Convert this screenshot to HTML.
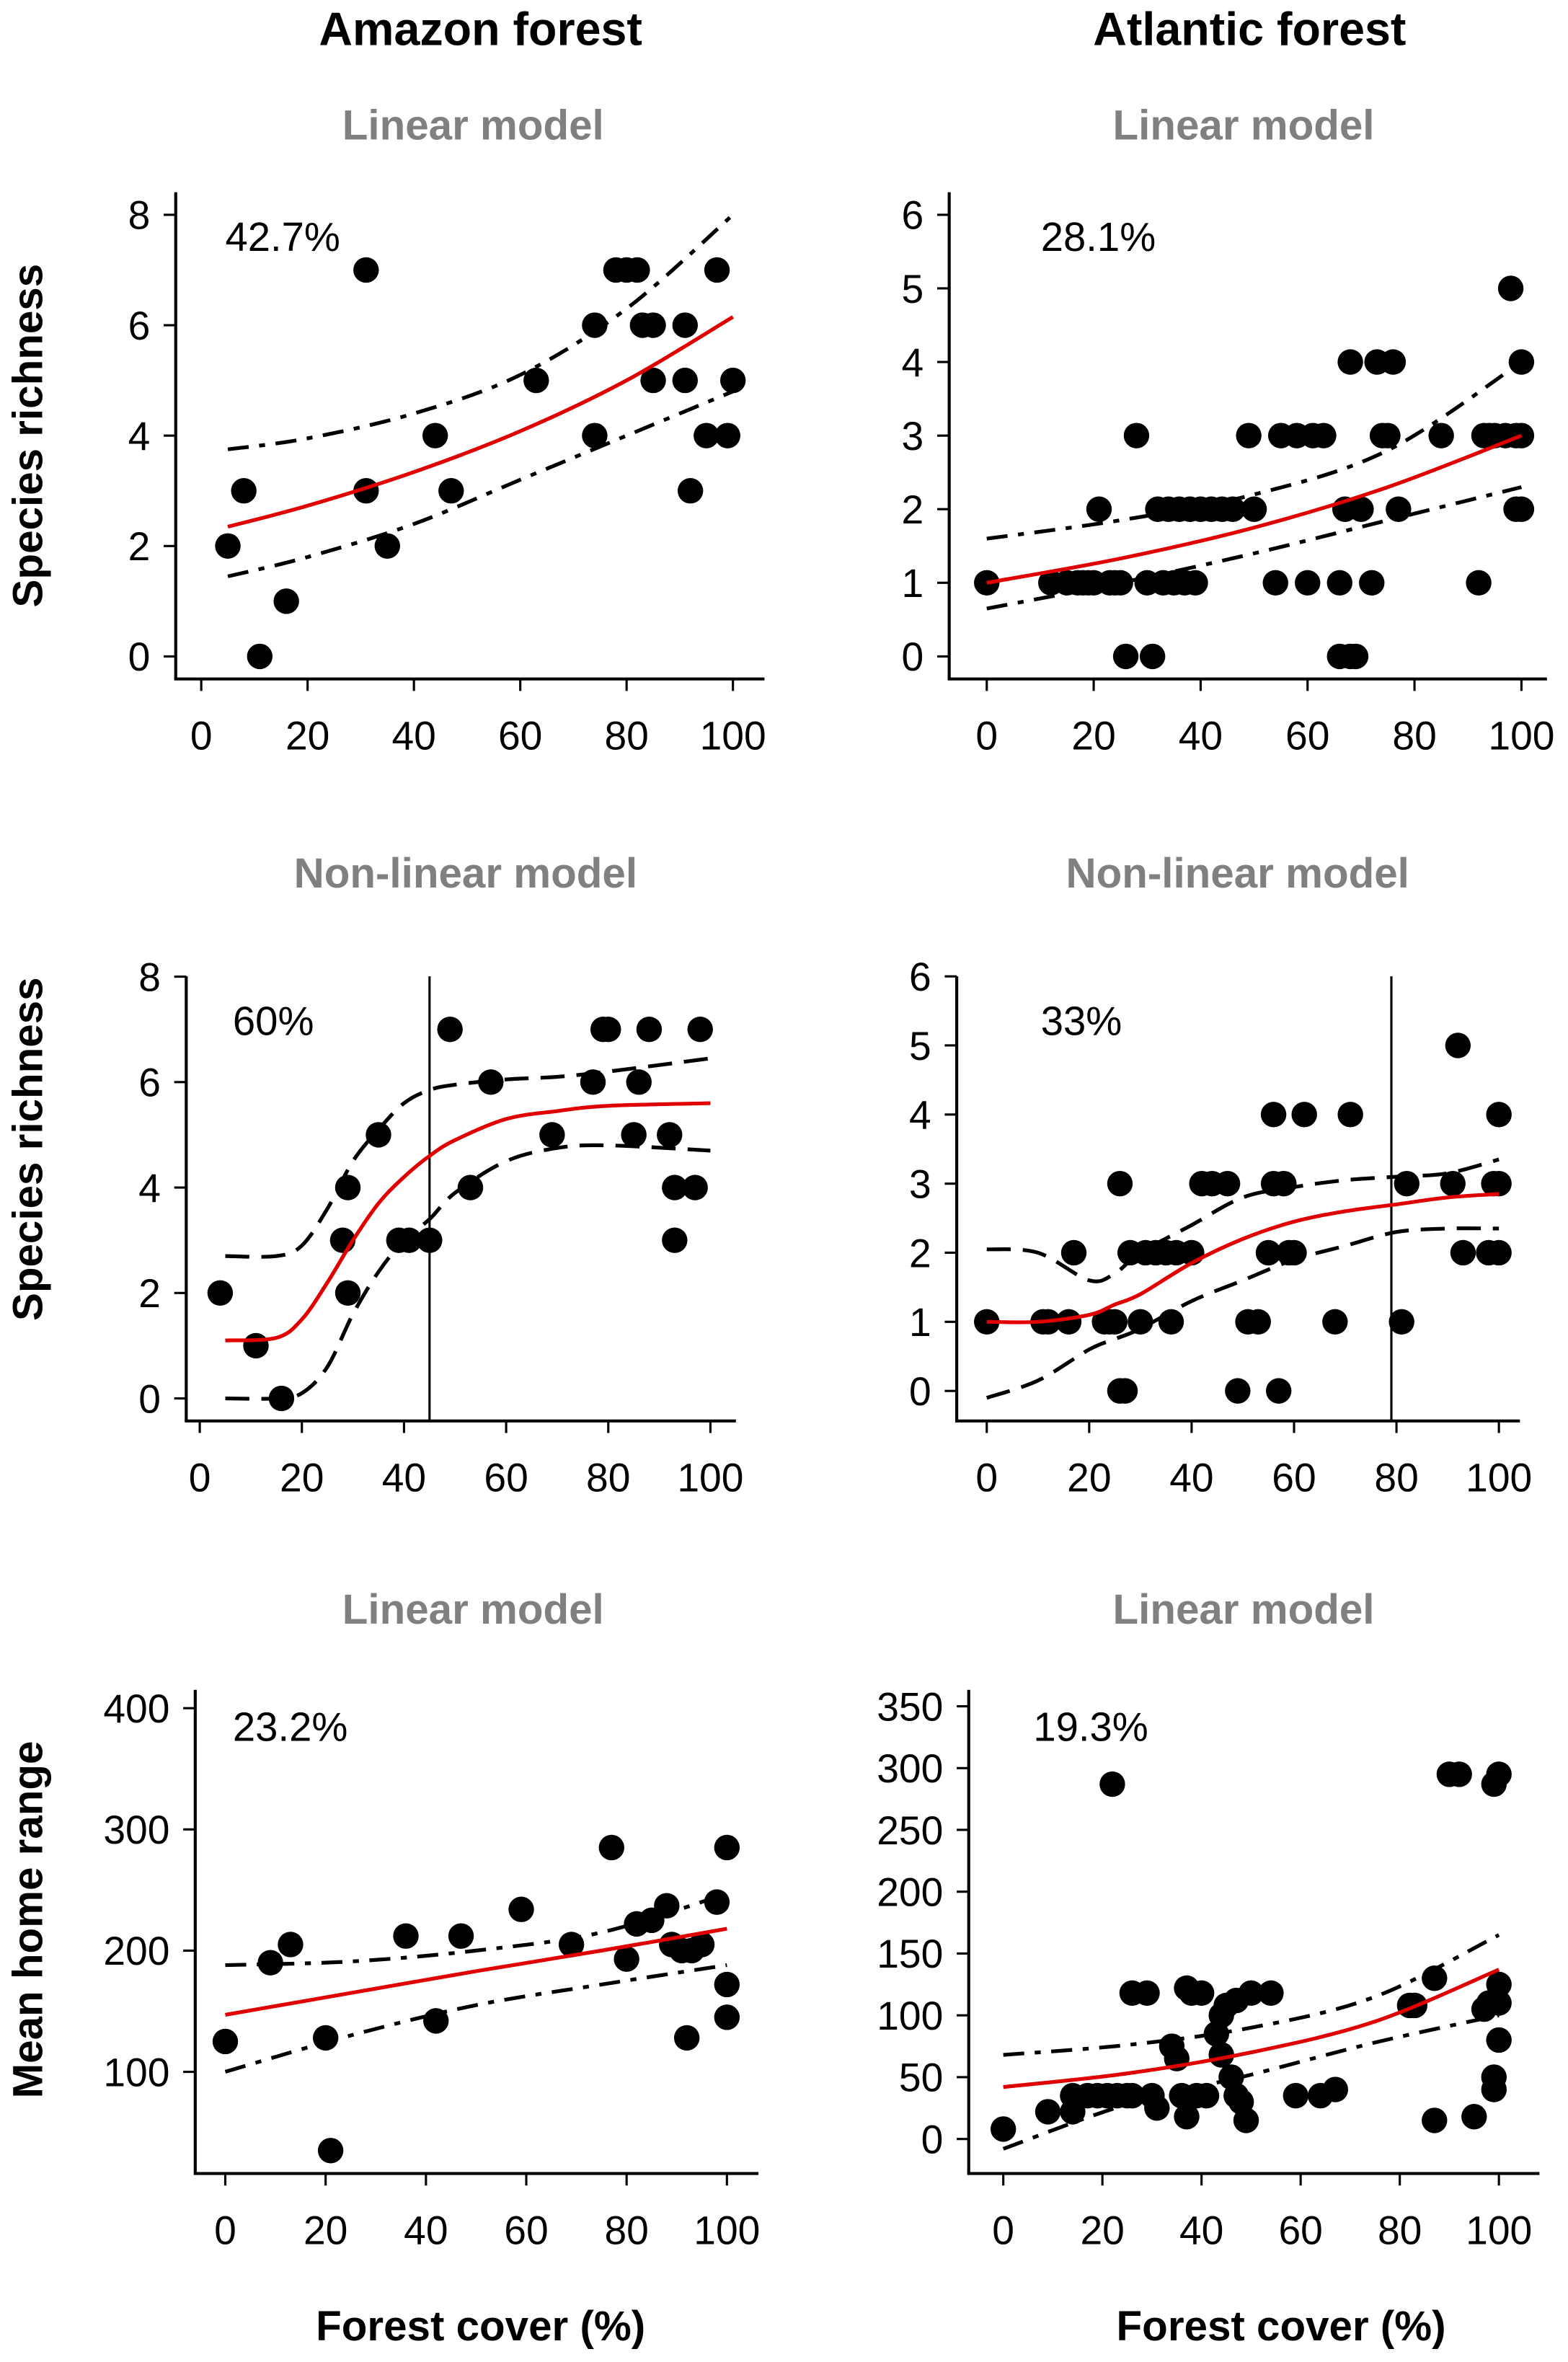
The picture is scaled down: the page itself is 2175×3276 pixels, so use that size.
<!DOCTYPE html>
<html><head><meta charset="utf-8"><style>
html,body{margin:0;padding:0;background:#fff;}
svg{display:block;font-family:"Liberation Sans",Arial,sans-serif;}
</style></head><body>
<svg id="fig" width="2175" height="3276" viewBox="0 0 1044 1572.5" preserveAspectRatio="none" xmlns="http://www.w3.org/2000/svg">
<text x="320" y="30" font-size="31" font-weight="bold" text-anchor="middle">Amazon forest</text>
<text x="832" y="30" font-size="31" font-weight="bold" text-anchor="middle">Atlantic forest</text>
<g fill="#808080" font-size="28" font-weight="bold" text-anchor="middle">
<text x="315" y="93">Linear model</text>
<text x="828" y="93">Linear model</text>
<text x="310" y="591">Non-linear model</text>
<text x="824" y="591">Non-linear model</text>
<text x="315" y="1081">Linear model</text>
<text x="828" y="1081">Linear model</text>
</g>
<g font-size="28" font-weight="bold" text-anchor="middle">
<text transform="translate(28,290) rotate(-90)">Species richness</text>
<text transform="translate(28,765) rotate(-90)">Species richness</text>
<text transform="translate(28,1278) rotate(-90)">Mean home range</text>
<text x="320" y="1558">Forest cover (%)</text>
<text x="853" y="1558">Forest cover (%)</text>
</g>
</svg>
<script>
// ---- data ----
const xTicks = [0,20,40,60,80,100];
const a1Ticks = [0,2,4,6,8];
const a1X = [5,8,11,16,31,31,35,44,47,63,74,74,78,80,82,83,85,85,91,91,92,95,97,99,100];
const a1Y = [2,3,0,1,7,3,2,4,3,5,6,4,7,7,7,6,6,5,6,5,3,4,7,4,5];
const a1CurveX = [5,20,40,60,80,100];
const a1Fit = [2.35,2.73,3.34,4.08,5.0,6.15];
const a1Upper = [3.75,3.95,4.4,5.1,6.3,8.0];
const a1Lower = [1.45,1.8,2.4,3.2,4.0,4.8];

const a2Ticks = [0,1,2,3,4,5,6];
const a2X = [0,12,15,17,18,19,20,21,23,24,25,26,28,30,31,32,33,34,35,36,37,38,39,40,42,44,46,49,50,54,55,58,60,61,63,66,66,67,68,68,69,70,72,73,74,75,76,77,85,92,93,94,95,97,98,99,99,100,100,100];
const a2Y = [1,1,1,1,1,1,1,2,1,1,1,0,3,1,0,2,1,2,1,2,1,2,1,2,2,2,2,3,2,1,3,3,1,3,3,1,0,2,0,4,0,2,1,4,3,3,4,2,3,1,3,3,3,3,5,2,3,2,4,3];
const a2CurveX = [0,25,50,75,100];
const a2Fit = [1.0,1.33,1.75,2.3,3.0];
const a2Upper = [1.6,1.85,2.2,2.8,4.0];
const a2Lower = [0.65,1.0,1.4,1.85,2.3];

const b1Ticks = [0,2,4,6,8];
const b1X = [4,11,16,28,29,29,35,39,41,45,49,53,57,69,77,79,80,85,86,88,92,93,93,97,98];
const b1Y = [2,1,0,3,4,2,5,3,3,3,7,4,6,5,6,7,7,5,6,7,5,4,3,4,7];
const b1CurveX = [5,15,20,25,30,35,40,45,50,60,70,80,100];
const b1Fit = [1.1,1.15,1.5,2.2,3.0,3.7,4.2,4.6,4.9,5.3,5.45,5.55,5.6];
const b1Upper = [2.7,2.7,2.9,3.6,4.5,5.1,5.6,5.85,5.95,6.05,6.1,6.2,6.45];
const b1Lower = [0,0,0.1,0.6,1.6,2.4,3.0,3.4,3.9,4.5,4.75,4.8,4.7];
const b1Threshold = 45;

const b2Ticks = [0,1,2,3,4,5,6];
const b2X = [0,11,12,16,17,23,24,25,26,26,27,28,30,31,33,35,36,37,40,42,44,47,49,51,53,55,56,56,57,58,59,60,62,68,71,81,82,91,92,93,98,99,100,100,100];
const b2Y = [1,1,1,1,2,1,1,1,3,0,0,2,1,2,2,2,1,2,2,3,3,3,0,1,1,2,4,3,0,3,2,2,4,1,4,1,3,3,5,2,2,3,2,4,3];
const b2CurveX = [0,10,20,25,30,40,50,60,70,80,90,100];
const b2Fit = [1.0,1.0,1.1,1.25,1.4,1.85,2.2,2.45,2.6,2.7,2.8,2.85];
const b2Upper = [2.05,2.0,1.6,1.7,2.0,2.4,2.8,2.95,3.05,3.1,3.15,3.35];
const b2Lower = [-0.1,0.15,0.6,0.75,0.9,1.3,1.6,1.9,2.1,2.3,2.35,2.35];
const b2Threshold = 79;

const c1Ticks = [100,200,300,400];
const c1X = [0,9,13,20,21,36,42,47,59,69,77,80,82,85,88,89,91,92,93,95,98,100,100,100];
const c1Y = [125,190,205,128,35,212,142,212,234,205,285,193,222,225,237,205,200,128,200,205,240,285,172,145];
const c1CurveX = [0,25,50,75,100];
const c1Fit = [147,165,183,200,218];
const c1Upper = [188,191,200,215,247];
const c1Lower = [100,130,155,172,188];

const c2Ticks = [0,50,100,150,200,250,300,350];
const c2X = [0,9,14,14,17,19,21,22,23,25,26,26,29,30,31,34,35,36,37,37,38,39,40,41,43,44,44,45,46,47,47,48,49,50,54,59,64,67,82,83,87,87,90,92,95,97,98,99,99,99,100,100,100,100];
const c2Y = [8,22,35,22,35,35,35,287,35,35,118,35,118,35,25,75,65,35,18,122,118,35,118,35,85,100,68,108,50,112,35,30,15,118,118,35,35,40,108,108,130,15,295,295,18,105,110,287,40,50,80,110,125,295];
const c2CurveX = [0,25,50,75,100];
const c2Fit = [42,53,70,95,137];
const c2Upper = [68,76,90,115,165];
const c2Lower = [-8,28,52,78,100];

// ---- drawing ----
const NS = 'http://www.w3.org/2000/svg';
const svg = document.getElementById('fig');
function mk(tag, attrs, parent){
  const e = document.createElementNS(NS, tag);
  for (const k in attrs) e.setAttribute(k, attrs[k]);
  (parent||svg).appendChild(e);
  return e;
}
function drawPanel(id, cfg, xs, ys, yTicks, cx, fit, up, lo, dash, pct, thr){
  const g = mk('g', {});
  
  
  const X = v => cfg.x0 + cfg.xs * v;
  const Y = v => cfg.y0 - cfg.ys * v;
  const ya = mk('line', {x1:cfg.ax, y1:cfg.yTop, x2:cfg.ax, y2:cfg.xAxisY, stroke:'#000','stroke-width':2}, g);
  
  
  const xa = mk('line', {x1:cfg.ax-1, y1:cfg.xAxisY, x2:cfg.xEnd, y2:cfg.xAxisY, stroke:'#000','stroke-width':2}, g);
  
  
  yTicks.forEach(t => {
    mk('line', {x1:cfg.ax-8, y1:Y(t), x2:cfg.ax, y2:Y(t), stroke:'#000','stroke-width':1.5}, g);
    const tl = mk('text', {x:cfg.ax-17, y:Y(t)+9.5, 'font-size':26.5, 'text-anchor':'end'}, g);
    tl.textContent = t;
    
    
  });
  xTicks.forEach(t => {
    mk('line', {x1:X(t), y1:cfg.xAxisY, x2:X(t), y2:cfg.xAxisY+8, stroke:'#000','stroke-width':1.5}, g);
    const tl = mk('text', {x:X(t), y:cfg.xAxisY+47, 'font-size':26.5, 'text-anchor':'middle'}, g);
    tl.textContent = t;
    
    
  });
  if (thr !== undefined) {
    const tv = mk('line', {x1:X(thr), y1:cfg.yTop, x2:X(thr), y2:cfg.xAxisY, stroke:'#000','stroke-width':1.5}, g);
    
    
  }
  xs.forEach((v,i) => {
    const c = mk('circle', {cx:X(v), cy:Y(ys[i]), r:8.5, fill:'#000'}, g);
    
    
  });
  function path(vals){
    const pts = cx.map((v,i)=>[X(v),Y(vals[i])]);
    let d = 'M'+pts[0][0]+','+pts[0][1];
    for (let i=0;i<pts.length-1;i++){
      const p0=pts[Math.max(0,i-1)], p1=pts[i], p2=pts[i+1], p3=pts[Math.min(pts.length-1,i+2)];
      const c1x=p1[0]+(p2[0]-p0[0])/6, c1y=p1[1]+(p2[1]-p0[1])/6;
      const c2x=p2[0]-(p3[0]-p1[0])/6, c2y=p2[1]-(p3[1]-p1[1])/6;
      d += ' C'+c1x+','+c1y+' '+c2x+','+c2y+' '+p2[0]+','+p2[1];
    }
    return d;
  }
  const pu = mk('path', {d:path(up), fill:'none', stroke:'#000','stroke-width':2.5,'stroke-dasharray':dash}, g);
  
  
  const pl = mk('path', {d:path(lo), fill:'none', stroke:'#000','stroke-width':2.5,'stroke-dasharray':dash}, g);
  
  
  const pf = mk('path', {d:path(fit), fill:'none', stroke:'#e00000','stroke-width':2.5}, g);
  
  
  const pt = mk('text', {x:cfg.px, y:cfg.py, 'font-size':27}, g);
  pt.textContent = pct;
  
  
}
const DD = '14,7,4,7';
const DL = '16,8';
drawPanel('a1', {x0:134,xs:3.54,ax:117,y0:437,ys:36.75,xAxisY:452,yTop:128,xEnd:509,px:150,py:167}, a1X,a1Y,a1Ticks,a1CurveX,a1Fit,a1Upper,a1Lower,DD,'42.7%');
drawPanel('a2', {x0:657,xs:3.56,ax:632,y0:437,ys:49,xAxisY:452,yTop:128,xEnd:1030,px:693,py:167}, a2X,a2Y,a2Ticks,a2CurveX,a2Fit,a2Upper,a2Lower,DD,'28.1%');
drawPanel('b1', {x0:133,xs:3.4,ax:124,y0:931,ys:35.1,xAxisY:946,yTop:650,xEnd:490,px:155,py:689}, b1X,b1Y,b1Ticks,b1CurveX,b1Fit,b1Upper,b1Lower,DL,'60%',b1Threshold);
drawPanel('b2', {x0:657,xs:3.41,ax:637,y0:926,ys:46,xAxisY:946,yTop:650,xEnd:1012,px:693,py:689}, b2X,b2Y,b2Ticks,b2CurveX,b2Fit,b2Upper,b2Lower,DL,'33%',b2Threshold);
drawPanel('c1', {x0:150,xs:3.34,ax:130,y0:1460,ys:0.807,xAxisY:1447,yTop:1125,xEnd:505,px:155,py:1159}, c1X,c1Y,c1Ticks,c1CurveX,c1Fit,c1Upper,c1Lower,DD,'23.2%');
drawPanel('c2', {x0:668,xs:3.3,ax:645,y0:1424,ys:0.823,xAxisY:1447,yTop:1125,xEnd:1025,px:688,py:1159}, c2X,c2Y,c2Ticks,c2CurveX,c2Fit,c2Upper,c2Lower,DD,'19.3%');
</script>
</body></html>
